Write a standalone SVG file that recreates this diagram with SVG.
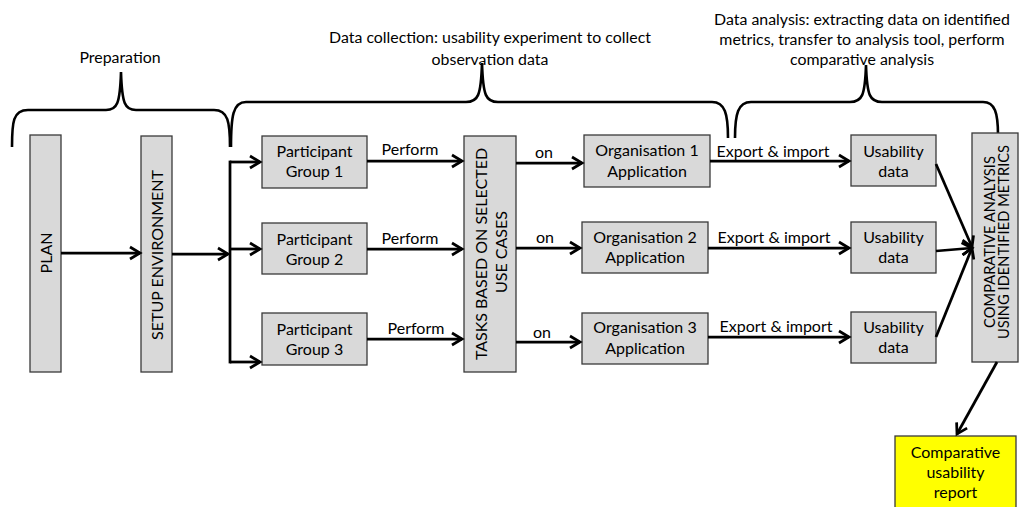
<svg xmlns="http://www.w3.org/2000/svg" width="1022" height="507" viewBox="0 0 1022 507">
<style>
.t{font-family:Lato,"Liberation Sans",sans-serif;font-size:16px;fill:#000;text-anchor:middle}
.s{font-size:14.7px}
.h{font-size:15.9px}
.box{fill:#d9d9d9;stroke:#3a3a3a;stroke-width:1.3}
.yel{fill:#ffff00;stroke:#3a3a3a;stroke-width:1.3}
.ln{fill:none;stroke:#000;stroke-width:2.75}
.ar{fill:none;stroke:#000;stroke-width:2.75;marker-end:url(#ah)}
.br{fill:none;stroke:#000;stroke-width:2.6}
</style>
<defs>
<marker id="ah" markerUnits="userSpaceOnUse" markerWidth="16" markerHeight="18" viewBox="-13 -9 16 18" refX="0" refY="0" orient="auto">
<path d="M-10,-6 L0,0 L-10,6" fill="none" stroke="#000" stroke-width="2.75" stroke-linejoin="miter"/>
</marker>
</defs>
<rect width="1022" height="507" fill="#fff"/>

<g id="labels">
<text class="t h" x="120" y="63">Preparation</text>
<text class="t h" x="490" y="43">Data collection: usability experiment to collect</text>
<text class="t h" x="490" y="65">observation data</text>
<text class="t h" x="862" y="25">Data analysis: extracting data on identified</text>
<text class="t h" x="862" y="45">metrics, transfer to analysis tool, perform</text>
<text class="t h" x="862" y="65">comparative analysis</text>
</g>

<g id="braces">
<path class="br" d="M12,147 C12,122 13,110 28,110 L106,110 C117,110 120,104 121,72 C122,104 125,110 136,110 L214,110 C228,110 230,122 230,147"/>
<path class="br" d="M231,147 C231,116 233,102 246,102 L466,102 C478,102 481,96 482,63 C483,96 486,102 498,102 L712,102 C725,102 728,114 728,138"/>
<path class="br" d="M735,138 C735,114 738,102 751,102 L850,102 C862,102 865,96 866,65 C867,96 870,102 882,102 L983,102 C995,102 998,113 998,135"/>
</g>

<g id="plan"><rect class="box" x="30" y="135" width="31" height="237"/>
<text class="t" transform="translate(52,253) rotate(-90)">PLAN</text></g>
<g id="setup"><rect class="box" x="141" y="136" width="31" height="236"/>
<text class="t" transform="translate(163,255) rotate(-90)">SETUP ENVIRONMENT</text></g>

<g id="pg1"><rect class="box" x="262" y="136" width="105" height="52"/>
<text class="t" x="314.5" y="157">Participant</text><text class="t" x="314.5" y="177">Group 1</text></g>
<g id="pg2"><rect class="box" x="262" y="223" width="105" height="51"/>
<text class="t" x="314.5" y="245">Participant</text><text class="t" x="314.5" y="265">Group 2</text></g>
<g id="pg3"><rect class="box" x="262" y="313" width="105" height="52"/>
<text class="t" x="314.5" y="335">Participant</text><text class="t" x="314.5" y="355">Group 3</text></g>

<g id="tasks"><rect class="box" x="464" y="136" width="52" height="236"/>
<text class="t" transform="translate(487,254) rotate(-90)">TASKS BASED ON SELECTED</text>
<text class="t" transform="translate(507,252) rotate(-90)">USE CASES</text></g>

<g id="org1"><rect class="box" x="584" y="135" width="126" height="52"/>
<text class="t" x="647" y="156">Organisation 1</text><text class="t" x="647" y="177">Application</text></g>
<g id="org2"><rect class="box" x="582" y="222" width="126" height="51"/>
<text class="t" x="645" y="243">Organisation 2</text><text class="t" x="645" y="263">Application</text></g>
<g id="org3"><rect class="box" x="582" y="313" width="126" height="51"/>
<text class="t" x="645" y="333">Organisation 3</text><text class="t" x="645" y="354">Application</text></g>

<g id="ud1"><rect class="box" x="851" y="135" width="85" height="51"/>
<text class="t" x="893.5" y="157">Usability</text><text class="t" x="893.5" y="177">data</text></g>
<g id="ud2"><rect class="box" x="851" y="222" width="85" height="51"/>
<text class="t" x="893.5" y="243">Usability</text><text class="t" x="893.5" y="263">data</text></g>
<g id="ud3"><rect class="box" x="851" y="312" width="85" height="51"/>
<text class="t" x="893.5" y="333">Usability</text><text class="t" x="893.5" y="353">data</text></g>

<g id="comp"><rect class="box" x="972" y="133" width="46" height="229"/>
<text class="t s" transform="translate(995,242) rotate(-90)">COMPARATIVE ANALYSIS</text>
<text class="t s" transform="translate(1009,242) rotate(-90)">USING IDENTIFIED METRICS</text></g>

<g id="report"><rect class="yel" x="895" y="436" width="121" height="80"/>
<text class="t" x="955.5" y="458">Comparative</text><text class="t" x="955.5" y="478">usability</text><text class="t" x="955.5" y="498">report</text></g>

<g id="connectors">
<line class="ar" x1="61" y1="253" x2="140" y2="253"/>
<line class="ar" x1="172" y1="254" x2="228" y2="254"/>
<line class="ln" x1="230" y1="160.6" x2="230" y2="363.4"/>
<line class="ar" x1="230" y1="162" x2="260" y2="162"/>
<line class="ar" x1="230" y1="249" x2="260" y2="249"/>
<line class="ar" x1="230" y1="362" x2="260" y2="362"/>
<line class="ar" x1="367" y1="161" x2="462" y2="161"/>
<line class="ar" x1="367" y1="249" x2="462" y2="249"/>
<line class="ar" x1="367" y1="339" x2="462" y2="339"/>
<line class="ar" x1="516" y1="163" x2="582" y2="163"/>
<line class="ar" x1="516" y1="248" x2="580" y2="248"/>
<line class="ar" x1="516" y1="342" x2="580" y2="342"/>
<line class="ar" x1="710" y1="161" x2="849" y2="161"/>
<line class="ar" x1="708" y1="248" x2="849" y2="248"/>
<line class="ar" x1="708" y1="337" x2="849" y2="337"/>
<line class="ar" x1="936" y1="164" x2="972" y2="247"/>
<line class="ar" x1="936" y1="251" x2="972" y2="248"/>
<line class="ar" x1="936" y1="337" x2="972" y2="248"/>
<line class="ar" x1="997" y1="362" x2="957" y2="434"/>
<text class="t" x="410" y="155">Perform</text>
<text class="t" x="410" y="244">Perform</text>
<text class="t" x="416" y="334">Perform</text>
<text class="t" x="544" y="158">on</text>
<text class="t" x="545" y="243">on</text>
<text class="t" x="542" y="338">on</text>
<text class="t" x="773" y="157">Export &amp; import</text>
<text class="t" x="774" y="243">Export &amp; import</text>
<text class="t" x="776" y="332">Export &amp; import</text>
</g>
</svg>
